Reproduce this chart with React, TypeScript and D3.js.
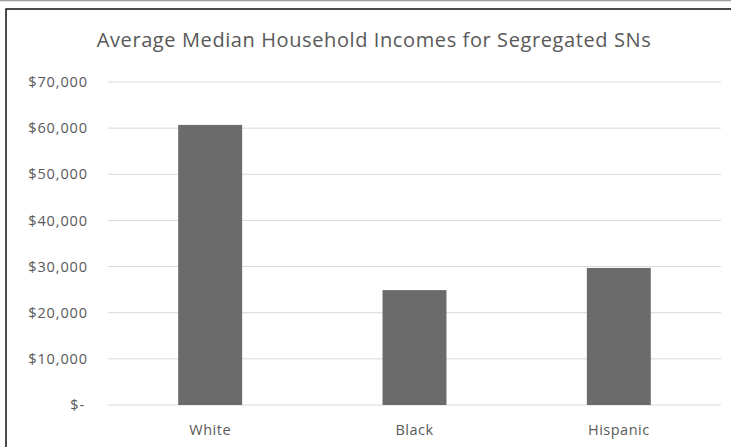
import React from "react";
import * as d3 from "d3";

const categories = ["White", "Black", "Hispanic"];
const values = [60700, 24900, 29700];
const yTicks = [0, 10000, 20000, 30000, 40000, 50000, 60000, 70000];
const title = "Average Median Household Incomes for Segregated SNs";

const W = 731;
const H = 447;
const FONT = "'Open Sans', 'Liberation Sans', sans-serif";

const fmt = (v: number) => (v === 0 ? "$-" : "$" + d3.format(",")(v));

export default function App() {
  const x = d3
    .scaleBand<string>()
    .domain(categories)
    .range([108, 721])
    .paddingInner(0.687)
    .paddingOuter(0.687 / 2);
  const y = d3.scaleLinear().domain([0, 70000]).range([405, 82]);

  return (
    <svg
      width={W}
      height={H}
      style={{ position: "absolute", left: 0, top: 0, background: "#fff" }}
    >
      <rect x={0} y={0} width={W} height={H} fill="#fff" />
      <line x1={0} x2={W} y1={0.5} y2={0.5} stroke="#a0a0a0" strokeWidth={1.5} />
      <rect x={6} y={9} width={W + 20} height={H + 20} fill="#fff" stroke="#111" strokeWidth={1.5} />
      <text
        x={374}
        y={47}
        textAnchor="middle"
        fontFamily={FONT}
        fontSize={20}
        letterSpacing={0.6}
        fill="#595959"
      >
        {title}
      </text>
      {yTicks.map((t) => (
        <g key={t}>
          <line x1={108} x2={721} y1={y(t)} y2={y(t)} stroke="#d9d9d9" strokeWidth={1} />
          <text
            x={t === 0 ? 85 : 88}
            y={y(t)}
            dy="0.35em"
            textAnchor="end"
            fontFamily={FONT}
            fontSize={14.5}
            letterSpacing={0.9}
            fill="#595959"
          >
            {fmt(t)}
          </text>
        </g>
      ))}
      {categories.map((c, i) => (
        <rect
          key={c}
          x={x(c)}
          y={y(values[i])}
          width={x.bandwidth()}
          height={y(0) - y(values[i])}
          fill="#6b6b6b"
        />
      ))}
      {categories.map((c) => (
        <text
          key={c}
          x={(x(c) as number) + x.bandwidth() / 2}
          y={430}
          dy="0.35em"
          textAnchor="middle"
          fontFamily={FONT}
          fontSize={14.5}
          letterSpacing={0.5}
          fill="#595959"
        >
          {c}
        </text>
      ))}
    </svg>
  );
}
